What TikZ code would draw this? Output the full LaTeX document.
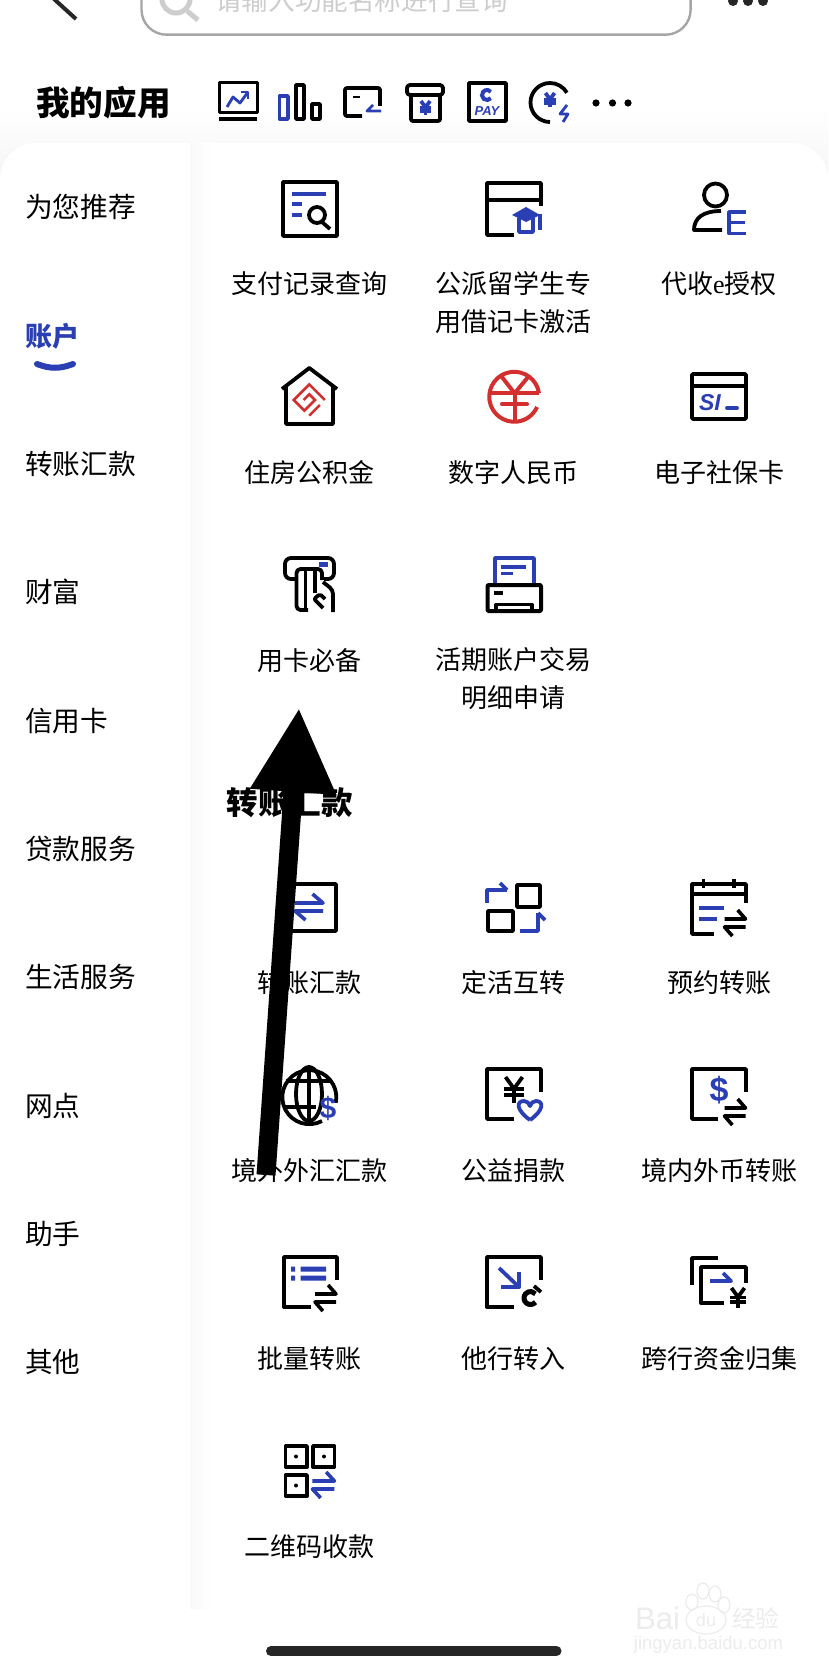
\documentclass[tikz,border=0pt]{standalone}
\usepackage{fontspec}
\setmainfont{Noto Sans CJK SC}
\newfontfamily\latinsans{Liberation Sans}
\newfontfamily\latinserif{Liberation Serif}
\usepackage{tikz}
\usetikzlibrary{arrows.meta, calc}

\definecolor{appblue}{HTML}{2A3FB3}
\definecolor{appred}{HTML}{D32F2F}
\definecolor{appgray}{HTML}{F5F5F7}
\definecolor{hintgray}{HTML}{CDCDCD}
\definecolor{markgray}{HTML}{ECECEC}

\tikzset{
    ink/.style={line width=3.8pt, line join=round},
    inkblue/.style={ink, draw=appblue},
    inkred/.style={ink, draw=appred},
    applabel/.style={inner sep=0pt, align=center, font=\fontsize{26}{38}\selectfont, text height=22.8pt, text depth=1.5pt},
    twolabel/.style={inner sep=0pt, align=center, font=\fontsize{26}{38}\selectfont},
    menulabel/.style={inner sep=0pt, anchor=west, font=\fontsize{27.7}{38}\selectfont, text height=24.3pt, text depth=3pt},
    headlabel/.style={inner sep=0pt, anchor=west, font=\fontsize{31.5}{38}\selectfont\bfseries}
}

% Two opposite half arrows
\newcommand{\swaparrows}[4]{
    \draw[ink, draw=#4, line width=3.6pt] ({#1-#3},{#2-4}) -- ({#1+#3},{#2-4}) -- ({#1+0.25*#3},{#2-13});
    \draw[ink, draw=#4, line width=3.6pt] ({#1+#3},{#2+4}) -- ({#1-#3},{#2+4}) -- ({#1-0.25*#3},{#2+13});
}
% Yen sign drawn with lines
\newcommand{\yensign}[4]{
    \draw[ink, draw=#4] ({#1-0.65*#3},{#2-#3}) -- (#1,{#2-0.1*#3}) -- ({#1+0.65*#3},{#2-#3});
    \draw[ink, draw=#4] (#1,{#2-0.1*#3}) -- (#1,{#2+#3});
    \draw[ink, draw=#4] ({#1-0.8*#3},{#2-0.05*#3}) -- ({#1+0.8*#3},{#2-0.05*#3});
    \draw[ink, draw=#4] ({#1-0.8*#3},{#2+0.4*#3}) -- ({#1+0.8*#3},{#2+0.4*#3});
}

\begin{document}
\begin{tikzpicture}[x=1pt, y=1pt, yscale=-1]
    \useasboundingbox (0,0) rectangle (828,1672);
    \fill[white] (0,0) rectangle (828,1672);

    % Panel and side menu
    \shade[top color=white, bottom color=appgray] (0,108) rectangle (828,180);
    \fill[white, rounded corners=36pt] (0,143) rectangle (828,1760);
    \shade[left color=appgray!60, right color=white] (190,143) rectangle (212,1608);
    \node[menulabel] (menuforyou) at (25,207) {为您推荐};
    \node[menulabel, text=appblue, font=\fontsize{27}{38}\selectfont\bfseries] (menuaccount) at (25,336) {账户};
    \draw[draw=appblue, line width=6pt, line cap=round] (37,364) .. controls (50,369) and (60,369) .. (73,364);
    \node[menulabel] (menutransfer) at (25,464) {转账汇款};
    \node[menulabel] (menuwealth) at (25,592) {财富};
    \node[menulabel] (menucredit) at (25,721) {信用卡};
    \node[menulabel] (menuloan) at (25,849) {贷款服务};
    \node[menulabel] (menulife) at (25,977) {生活服务};
    \node[menulabel] (menubranch) at (25,1106) {网点};
    \node[menulabel] (menuhelper) at (25,1234) {助手};
    \node[menulabel] (menuother) at (25,1362) {其他};

    % Search bar
    \draw[line width=2.4pt, draw=black!35, rounded corners=25pt] (141.5,-40) rectangle (690.6,34.7);
    \draw[line width=5pt, draw=hintgray] (176,-1) circle (14);
    \draw[line width=5pt, draw=hintgray] (187,11) -- (198,20);
    \node[inner sep=0pt, anchor=west, text=hintgray, font=\fontsize{26.6}{30}\selectfont] (searchhint) at (215,0) {请输入功能名称进行查询};
    \draw[line width=4pt, draw=black!85] (54,-1) -- (76,19);
    \fill[black!85] (733,1) circle (5) (748,1) circle (5) (763,1) circle (5);

    % My apps row
    \node[headlabel, font=\fontsize{33.6}{38}\selectfont\bfseries] (myapps) at (36,103) {我的应用};
    \draw[ink, line width=3pt] (219,83) rectangle (257,113);
    \draw[ink, line width=4pt] (219,119) -- (257,119);
    \draw[inkblue, line width=2.8pt] (227,107) -- (233,97) -- (240,103) -- (248,92);
    \draw[inkblue, line width=2.8pt] (241,92) -- (248,92) -- (248,99);
    \draw[inkblue] (279.5,96) rectangle (288,119);
    \draw[ink] (296,85) rectangle (304,119);
    \draw[ink] (312,104) rectangle (320,119);
    \draw[ink, rounded corners=2pt] (362,116) -- (345,116) -- (345,88) -- (380,88) -- (380,106);
    \draw[ink, line width=2.6pt] (353,97) -- (360,97);
    \draw[inkblue, line width=2.8pt] (381,111) -- (367,111) -- (373,105);
    \draw[ink, rounded corners=3pt] (407,85) rectangle (443,95);
    \draw[ink, rounded corners=2pt] (411,95) -- (411,121) -- (440,121) -- (440,95);
    \yensign{425.5}{108}{7}{appblue}
    \draw[ink] (469,83) rectangle (506,121);
    \draw[draw=appblue, line width=4pt] (487,95) ++(40:5) arc[start angle=40, end angle=320, radius=5];
    \node[inner sep=0pt, text=appblue, font=\latinsans\fontsize{13}{13}\selectfont\bfseries\itshape] (paytext) at (487,111) {PAY};
    \draw[ink] (550,122) arc[start angle=90, end angle=330, radius=19.5];
    \yensign{550}{100}{7}{appblue}
    \draw[inkblue, line width=2.8pt] (567,105) -- (560,114) -- (568,114) -- (563,122);
    \fill[black] (596,103) circle (3.6) (612.5,103) circle (3.6) (628,103) circle (3.6);

    % Account icons, first row
    \draw[ink] (283,182) rectangle (337,236);
    \draw[inkblue] (291.5,194) -- (326,194);
    \draw[inkblue] (291.5,204) -- (302,204);
    \draw[inkblue] (291.5,215) -- (302,215);
    \draw[ink] (317,215) circle (8);
    \draw[ink] (322,222) -- (330,229);
    \draw[ink] (514,235) -- (487,235) -- (487,183) -- (541,183) -- (541,206);
    \draw[ink] (487,200) -- (541,200);
    \fill[appblue] (526,207) -- (540,215) -- (526,222) -- (512,215) -- cycle;
    \draw[inkblue] (519,218) -- (519,232) -- (533,232) -- (533,218);
    \draw[inkblue] (540,214) -- (540,230);
    \draw[ink] (715.5,195) circle (11.5);
    \draw[ink] (721,211) .. controls (703,211) and (694,218) .. (694,230) -- (722,230);
    \draw[inkblue] (746,212) -- (729,212) -- (729,233.5) -- (746,233.5);
    \draw[inkblue] (729,222.5) -- (745,222.5);

    % Account icons, second row
    \draw[ink] (282,389) -- (309.3,368) -- (337,389);
    \draw[ink] (286,387) -- (286,424) -- (333,424) -- (333,387);
    \begin{scope}[shift={(309.3,400)}, rotate=45, line width=2.6pt]
        \draw[draw=appred] (11,-11) -- (-11,-11) -- (-11,11) -- (4,11) -- (4,-4) -- (-4,-4) -- (-4,4);
        \draw[draw=appred] (11,-4) -- (11,11);
    \end{scope}
    \draw[inkred, line width=4pt] (539,393.3) arc[start angle=-8, end angle=-336, radius=25];
    \draw[inkred, line width=4pt] (489.5,393.3) -- (539,393.3);
    \draw[inkred, line width=4pt] (501.7,376.7) -- (514.6,393.3) -- (528.3,376.7);
    \draw[inkred, line width=4pt] (514.6,393.3) -- (514.6,421);
    \draw[inkred, line width=4pt, line cap=round] (502,404.3) -- (527,404.3);
    \draw[ink, rounded corners=1pt] (692,374) rectangle (746,419);
    \draw[ink] (692,386) -- (746,386);
    \node[inner sep=0pt, text=appblue, font=\latinsans\fontsize{23}{23}\selectfont\bfseries\itshape] (sitext) at (710,403) {SI};
    \draw[inkblue, line cap=round] (727,408) -- (737,408);

    % Account icons, third row
    \draw[ink, rounded corners=6pt] (295,579) -- (285,579) -- (285,558) -- (334,558) -- (334,579) -- (324,579);
    \fill[appblue] (319,562) rectangle (328,566.5);
    \draw[ink, rounded corners=4pt] (308,610) -- (296.5,610) -- (296.5,569) -- (322,569) -- (322,580);
    \draw[ink] (305.5,570) -- (305.5,610);
    \draw[ink] (315,570) -- (315,593);
    \draw[ink, rounded corners=4pt] (323,582) -- (333,590) -- (333,612);
    \draw[ink, rounded corners=2pt] (323,608) -- (314,599) -- (320,594) -- (325,599);
    \draw[inkblue] (495,584) -- (495,558) -- (534,558) -- (534,584);
    \draw[inkblue] (501,566.7) -- (525.6,566.7);
    \draw[inkblue] (501,573.5) -- (512.6,573.5);
    \draw[ink, line width=4pt, rounded corners=1pt] (487.5,585) rectangle (541,611);
    \draw[ink] (494,593) -- (502.5,593);
    \draw[ink] (496,611) -- (496,604.5) -- (532,604.5) -- (532,611);

    % Account labels
    \node[applabel] (lblrecords) at (309,283) {支付记录查询};
    \node[twolabel] (lblstudent) at (513.4,302.5) {公派留学生专\\用借记卡激活};
    \node[applabel] (lblproxy) at (719,283) {代收{\latinserif e}授权};
    \node[applabel] (lblfund) at (309,472) {住房公积金};
    \node[applabel] (lbldigital) at (513.4,472) {数字人民币};
    \node[applabel] (lblsocial) at (719,472) {电子社保卡};
    \node[applabel] (lblcard) at (309,660) {用卡必备};
    \node[twolabel] (lbldetail) at (513.4,679) {活期账户交易\\明细申请};

    % Transfer section
    \node[headlabel] (transfertitle) at (226.5,803) {转账汇款};
    \draw[ink] (283,884) rectangle (336,931);
    \swaparrows{309}{907}{14}{appblue}
    \draw[ink] (517,885) rectangle (540,907);
    \draw[ink] (488,911) rectangle (513,931);
    \draw[inkblue] (487,903) -- (487,890) -- (507,890);
    \draw[inkblue] (500,883) -- (507,890);
    \draw[inkblue] (519.5,931) -- (538,931) -- (538,913);
    \draw[inkblue] (538,913) -- (545,920);
    \draw[ink] (714,934) -- (692,934) -- (692,884) -- (746,884) -- (746,903);
    \draw[ink] (692,894) -- (746,894);
    \draw[ink] (703.5,879) -- (703.5,888);
    \draw[ink] (734,879) -- (734,888);
    \draw[inkblue] (698.5,908) -- (724,908);
    \draw[inkblue] (698.5,919) -- (717,919);
    \swaparrows{735}{923}{10.5}{black}

    % Transfer icons, second row
    \draw[ink] (322,1121) arc[start angle=62, end angle=372, radius=27];
    \draw[ink] (309,1067) -- (309,1121);
    \draw[ink] (309,1094) ellipse[x radius=13, y radius=27];
    \draw[ink] (286,1081) -- (332,1081);
    \draw[ink] (284,1107) -- (316,1107);
    \node[inner sep=0pt, text=appblue, font=\latinsans\fontsize{30}{30}\selectfont\bfseries] (dollarglobe) at (328,1108) {\$};
    \draw[ink] (514,1119) -- (487,1119) -- (487,1069) -- (541,1069) -- (541,1092);
    \yensign{514}{1090}{13}{black}
    \draw[inkblue] (530,1120) .. controls (516,1110) and (516,1101) .. (524,1101) .. controls (527,1101) and (529,1103) .. (530,1106) .. controls (531,1103) and (533,1101) .. (536,1101) .. controls (544,1101) and (544,1110) .. (530,1120);
    \draw[ink] (718,1119) -- (692,1119) -- (692,1069) -- (746,1069) -- (746,1092);
    \node[inner sep=0pt, text=appblue, font=\latinsans\fontsize{34}{34}\selectfont\bfseries] (dollarforeign) at (719,1090) {\$};
    \swaparrows{735}{1112}{10.5}{black}

    % Transfer icons, third row
    \draw[ink] (311,1307) -- (284,1307) -- (284,1257) -- (337,1257) -- (337,1280);
    \fill[appblue] (291,1266.5) rectangle (295,1271.5) (291,1275.5) rectangle (295,1280.5);
    \fill[appblue] (300.5,1266.5) rectangle (326,1271.5) (300.5,1275.5) rectangle (326,1280.5);
    \swaparrows{325.5}{1298}{10.5}{black}
    \draw[ink] (514,1307) -- (487,1307) -- (487,1257) -- (541,1257) -- (541,1280);
    \draw[inkblue] (499,1268) -- (519,1287);
    \draw[inkblue] (501,1287) -- (519,1287) -- (519,1272);
    \draw[ink, line width=5pt] (530.5,1298) ++(40:6.5) arc[start angle=40, end angle=320, radius=6.5];
    \draw[ink] (534,1286) -- (541,1292);
    \draw[ink] (692,1285) -- (692,1258) -- (718,1258);
    \draw[ink] (724,1303) -- (701,1303) -- (701,1267) -- (746,1267) -- (746,1283);
    \draw[inkblue] (710,1281) -- (731,1281) -- (723,1273);
    \yensign{738}{1298}{10}{black}

    % Transfer icons, fourth row
    \draw[ink] (285.5,1446) rectangle (307,1467);
    \draw[ink] (313,1446) rectangle (334.5,1467);
    \draw[ink] (285.5,1475) rectangle (307,1496);
    \fill[black] (296,1456.5) circle (2) (324,1456.5) circle (2) (296,1485.5) circle (2);
    \swaparrows{323.4}{1485}{11}{appblue}

    % Transfer labels
    \node[applabel] (lbltransfer) at (309,982) {转账汇款};
    \node[applabel] (lblfixed) at (513.4,982) {定活互转};
    \node[applabel] (lblbooking) at (719,982) {预约转账};
    \node[applabel] (lblforex) at (309,1170) {境外外汇汇款};
    \node[applabel] (lblcharity) at (513.4,1170) {公益捐款};
    \node[applabel] (lblcurrency) at (719,1170) {境内外币转账};
    \node[applabel] (lblbatch) at (309,1358) {批量转账};
    \node[applabel] (lblinward) at (513.4,1358) {他行转入};
    \node[applabel] (lblcollect) at (719,1358) {跨行资金归集};
    \node[applabel] (lblqrcode) at (309,1546) {二维码收款};

    % Watermark
    \draw[draw=markgray, line width=1.2pt] (703,1591) ellipse[x radius=6, y radius=8];
    \draw[draw=markgray, line width=1.2pt] (715,1594) ellipse[x radius=6, y radius=8];
    \draw[draw=markgray, line width=1.2pt] (692,1602) ellipse[x radius=6, y radius=8];
    \draw[draw=markgray, line width=1.2pt] (724,1605) ellipse[x radius=6, y radius=8];
    \draw[draw=markgray, line width=1.2pt] (706,1620) ellipse[x radius=20, y radius=14];
    \node[inner sep=0pt, anchor=west, text=markgray, font=\latinsans\fontsize{31}{31}\selectfont] (markbai) at (635,1618) {Bai};
    \node[inner sep=0pt, text=markgray, font=\latinsans\fontsize{18}{18}\selectfont] (markdu) at (706,1620) {du};
    \node[inner sep=0pt, anchor=west, text=markgray, font=\fontsize{23.5}{24}\selectfont] (markjy) at (732,1618) {经验};
    \node[inner sep=0pt, text=markgray, font=\latinsans\fontsize{18.5}{19}\selectfont] (markurl) at (708.5,1645) {jingyan.baidu.com};

    % Home indicator
    \draw[draw=black!85, line width=10pt, line cap=round] (271,1651) -- (556.5,1651);

    % Big arrow
    \coordinate (arrowtail) at (266,1175);
    \coordinate (arrowtip) at (299,708);
    \draw[line width=19pt, -{Triangle[length=84pt, width=81pt]}] (arrowtail) -- (arrowtip);
\end{tikzpicture}
\end{document}
